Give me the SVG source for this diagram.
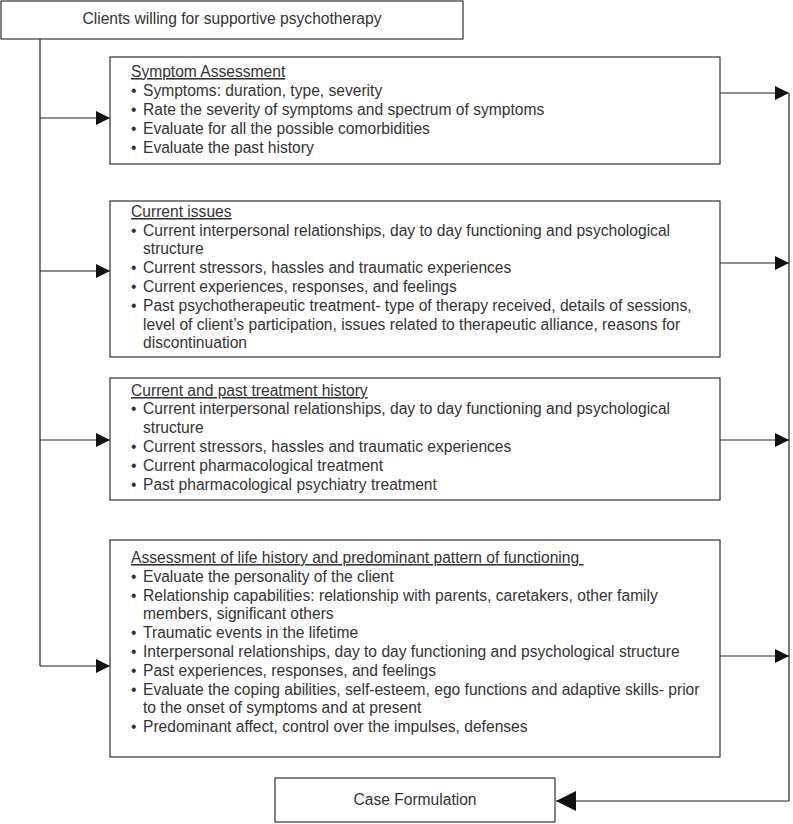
<svg xmlns="http://www.w3.org/2000/svg" width="793" height="824" viewBox="0 0 793 824">
<style>
.box{fill:#fff;stroke:#333;stroke-width:1.2}
.t{font-family:"Liberation Sans",Arial,sans-serif;font-size:15.6px;fill:#333}
.c{text-anchor:middle}
.u{text-decoration:underline}
.ln{fill:none;stroke:#222;stroke-width:1.2}
</style>
<defs>
<marker id="ah" markerUnits="userSpaceOnUse" markerWidth="14" markerHeight="14" refX="14" refY="7" orient="auto">
<path d="M0,0 L14,7 L0,14 Z" fill="#111"/>
</marker>
<marker id="ah2" markerUnits="userSpaceOnUse" markerWidth="20" markerHeight="20" refX="20" refY="10" orient="auto">
<path d="M0,0 L20,10 L0,20 Z" fill="#111"/>
</marker>
</defs>
<rect width="793" height="824" fill="#fff"/>

<g id="connectors">
<path class="ln" d="M40,39 V666"/>
<path class="ln" d="M40,118 H110" marker-end="url(#ah)"/>
<path class="ln" d="M40,271 H110" marker-end="url(#ah)"/>
<path class="ln" d="M40,440 H110" marker-end="url(#ah)"/>
<path class="ln" d="M40,666 H110" marker-end="url(#ah)"/>
<path class="ln" d="M789,93 V801"/>
<path class="ln" d="M720,93 H789" marker-end="url(#ah)"/>
<path class="ln" d="M720,263 H789" marker-end="url(#ah)"/>
<path class="ln" d="M720,440 H789" marker-end="url(#ah)"/>
<path class="ln" d="M720,656 H789" marker-end="url(#ah)"/>
<path class="ln" d="M789,801 H556" marker-end="url(#ah2)"/>
</g>

<g id="start">
<rect class="box" x="1" y="1" width="462" height="38"/>
<text class="t c" x="232" y="24">Clients willing for supportive psychotherapy</text>
</g>

<g id="symptom">
<rect class="box" x="110" y="57" width="610" height="107"/>
<text class="t u" x="131" y="77">Symptom Assessment</text>
<text class="t" x="131" y="96">•</text><text class="t" x="143" y="96">Symptoms: duration, type, severity</text>
<text class="t" x="131" y="115">•</text><text class="t" x="143" y="115">Rate the severity of symptoms and spectrum of symptoms</text>
<text class="t" x="131" y="134">•</text><text class="t" x="143" y="134">Evaluate for all the possible comorbidities</text>
<text class="t" x="131" y="153">•</text><text class="t" x="143" y="153">Evaluate the past history</text>
</g>

<g id="current">
<rect class="box" x="110" y="201" width="610" height="156"/>
<text class="t u" x="131" y="217">Current issues</text>
<text class="t" x="131" y="236">•</text><text class="t" x="143" y="236">Current interpersonal relationships, day to day functioning and psychological</text>
<text class="t" x="143" y="254">structure</text>
<text class="t" x="131" y="273">•</text><text class="t" x="143" y="273">Current stressors, hassles and traumatic experiences</text>
<text class="t" x="131" y="292">•</text><text class="t" x="143" y="292">Current experiences, responses, and feelings</text>
<text class="t" x="131" y="311">•</text><text class="t" x="143" y="311">Past psychotherapeutic treatment- type of therapy received, details of sessions,</text>
<text class="t" x="143" y="330">level of client’s participation, issues related to therapeutic alliance, reasons for</text>
<text class="t" x="143" y="348">discontinuation</text>
</g>

<g id="treatment">
<rect class="box" x="110" y="378" width="610" height="122"/>
<text class="t u" x="131" y="396">Current and past treatment history</text>
<text class="t" x="131" y="414">•</text><text class="t" x="143" y="414">Current interpersonal relationships, day to day functioning and psychological</text>
<text class="t" x="143" y="433">structure</text>
<text class="t" x="131" y="452">•</text><text class="t" x="143" y="452">Current stressors, hassles and traumatic experiences</text>
<text class="t" x="131" y="471">•</text><text class="t" x="143" y="471">Current pharmacological treatment</text>
<text class="t" x="131" y="490">•</text><text class="t" x="143" y="490">Past pharmacological psychiatry treatment</text>
</g>

<g id="lifehistory">
<rect class="box" x="110" y="540" width="610" height="217"/>
<text class="t u" x="131" y="563">Assessment of life history and predominant pattern of functioning&#160;</text>
<text class="t" x="131" y="582">•</text><text class="t" x="143" y="582">Evaluate the personality of the client</text>
<text class="t" x="131" y="601">•</text><text class="t" x="143" y="601">Relationship capabilities: relationship with parents, caretakers, other family</text>
<text class="t" x="143" y="619">members, significant others</text>
<text class="t" x="131" y="638">•</text><text class="t" x="143" y="638">Traumatic events in the lifetime</text>
<text class="t" x="131" y="657">•</text><text class="t" x="143" y="657">Interpersonal relationships, day to day functioning and psychological structure</text>
<text class="t" x="131" y="676">•</text><text class="t" x="143" y="676">Past experiences, responses, and feelings</text>
<text class="t" x="131" y="695">•</text><text class="t" x="143" y="695">Evaluate the coping abilities, self-esteem, ego functions and adaptive skills- prior</text>
<text class="t" x="143" y="713">to the onset of symptoms and at present</text>
<text class="t" x="131" y="732">•</text><text class="t" x="143" y="732">Predominant affect, control over the impulses, defenses</text>
</g>

<g id="caseformulation">
<rect class="box" x="275" y="778" width="280" height="44"/>
<text class="t c" x="415" y="805">Case Formulation</text>
</g>
</svg>
